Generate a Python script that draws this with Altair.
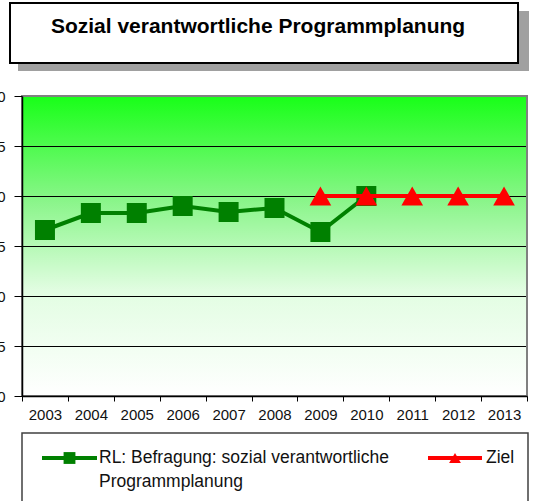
import altair as alt
import pandas as pd

# --- data -------------------------------------------------------------
years = [str(y) for y in range(2003, 2014)]

survey_years = ["2003", "2004", "2005", "2006", "2007", "2008", "2009", "2010"]
survey_values = [2.66, 2.83, 2.83, 2.90, 2.84, 2.88, 2.64, 3.00]

target_years = ["2009", "2010", "2011", "2012", "2013"]
target_values = [3.0, 3.0, 3.0, 3.0, 3.0]

y_ticks = [1.0, 1.5, 2.0, 2.5, 3.0, 3.5, 4.0]

chart_title = "Sozial verantwortliche Programmplanung"
survey_label = ["RL: Befragung: sozial verantwortliche", "Programmplanung"]
target_label = "Ziel"

# --- styling ----------------------------------------------------------
FONT = "Liberation Sans, Arial, sans-serif"
W, H = 505, 300
GREEN = "#008000"
RED = "#ff0000"

survey_df = pd.DataFrame({"year": survey_years, "value": survey_values})
target_df = pd.DataFrame({"year": target_years, "value": target_values})
grid_df = pd.DataFrame({"value": y_ticks})
one = pd.DataFrame({"k": [0]})

x_scale = alt.Scale(domain=years, type="band", paddingInner=0, paddingOuter=0)
y_scale = alt.Scale(domain=[1.0, 4.0], nice=False, zero=False)

x_axis = alt.Axis(
    title=None, labelAngle=0, tickBand="extent", grid=False,
    domainColor="black", domainWidth=1.5, tickColor="black", tickSize=5,
    labelFont=FONT, labelFontSize=15, labelColor="#111111", labelPadding=6,
    zindex=2,
)
y_axis = alt.Axis(
    title=None, values=y_ticks, grid=False,
    labelExpr="replace(format(datum.value, '.1f'), '.', ',')",
    domainColor="black", domainWidth=1.5, tickColor="black", tickSize=8,
    labelFont=FONT, labelFontSize=15, labelColor="#111111", labelPadding=9,
    zindex=2,
)

X = alt.X("year:O", scale=x_scale, axis=x_axis, bandPosition=0.5)
Y = alt.Y("value:Q", scale=y_scale, axis=y_axis)

# plot-area gradient background
background = alt.Chart(one).mark_rect(
    fill=alt.Gradient(
        gradient="linear", x1=0, x2=0, y1=0, y2=1,
        stops=[
            alt.GradientStop(offset=0, color="#18ff18"),
            alt.GradientStop(offset=0.35, color="#8af58a"),
            alt.GradientStop(offset=0.65, color="#e2fde2"),
            alt.GradientStop(offset=1, color="#ffffff"),
        ],
    )
).encode(x=alt.value(0), x2=alt.value(W), y=alt.value(0), y2=alt.value(H))

gridlines = alt.Chart(grid_df).mark_rule(color="black", strokeWidth=1, yOffset=0.5).encode(
    y=Y
)

frame = alt.Chart(one).mark_rect(fill=None, stroke="#808080", strokeWidth=2).encode(
    x=alt.value(0), x2=alt.value(W), y=alt.value(0), y2=alt.value(H)
)

survey_line = alt.Chart(survey_df).mark_line(color=GREEN, strokeWidth=4).encode(x=X, y=Y)
survey_pts = alt.Chart(survey_df).mark_point(
    shape="square", filled=True, size=400, color=GREEN, opacity=1
).encode(x=X, y=Y)

target_line = alt.Chart(target_df).mark_line(color=RED, strokeWidth=4).encode(x=X, y=Y)
target_pts = alt.Chart(target_df).mark_point(
    shape="triangle-up", filled=True, size=470, color=RED, opacity=1
).encode(x=X, y=Y)

# title box with drop shadow
title_shadow = alt.Chart(one).mark_rect(fill="#a0a0a0").encode(
    x=alt.value(-4), x2=alt.value(507), y=alt.value(-85), y2=alt.value(-25)
)
title_box = alt.Chart(one).mark_rect(fill="white", stroke="black", strokeWidth=2).encode(
    x=alt.value(-12), x2=alt.value(496), y=alt.value(-93), y2=alt.value(-33)
)
title_text = alt.Chart(one).mark_text(
    text=chart_title, font=FONT, fontSize=21, fontWeight="bold",
    align="center", baseline="middle", color="black",
).encode(x=alt.value(236), y=alt.value(-69))

# legend box
legend_box = alt.Chart(one).mark_rect(fill="white", stroke="#404040", strokeWidth=1.5).encode(
    x=alt.value(0), x2=alt.value(506), y=alt.value(337), y2=alt.value(420)
)
leg_survey_line = alt.Chart(one).mark_rule(color=GREEN, strokeWidth=4).encode(
    x=alt.value(20), x2=alt.value(75), y=alt.value(362)
)
leg_survey_pt = alt.Chart(one).mark_point(
    shape="square", filled=True, size=140, color=GREEN, opacity=1
).encode(x=alt.value(47.5), y=alt.value(362))
leg_survey_text = alt.Chart(one).mark_text(
    text=survey_label, font=FONT, fontSize=17.5, align="left", baseline="alphabetic",
    lineHeight=24, color="#111111",
).encode(x=alt.value(77), y=alt.value(367))

leg_target_line = alt.Chart(one).mark_rule(color=RED, strokeWidth=4).encode(
    x=alt.value(406), x2=alt.value(460), y=alt.value(362)
)
leg_target_pt = alt.Chart(one).mark_point(
    shape="triangle-up", filled=True, size=140, color=RED, opacity=1
).encode(x=alt.value(433), y=alt.value(362))
leg_target_text = alt.Chart(one).mark_text(
    text=target_label, font=FONT, fontSize=17.5, align="left", baseline="alphabetic",
    color="#111111",
).encode(x=alt.value(464), y=alt.value(367))

chart = alt.layer(
    background, gridlines, frame,
    survey_line, survey_pts, target_line, target_pts,
    title_shadow, title_box, title_text,
    legend_box, leg_survey_line, leg_survey_pt, leg_survey_text,
    leg_target_line, leg_target_pt, leg_target_text,
).properties(
    width=W, height=H,
    autosize=alt.AutoSizeParams(type="none"),
    padding={"left": 22, "top": 96, "right": 6, "bottom": 105},
    background="white",
).configure_view(stroke=None)

chart.save("out.html", embed_options={"renderer": "svg", "actions": False})
